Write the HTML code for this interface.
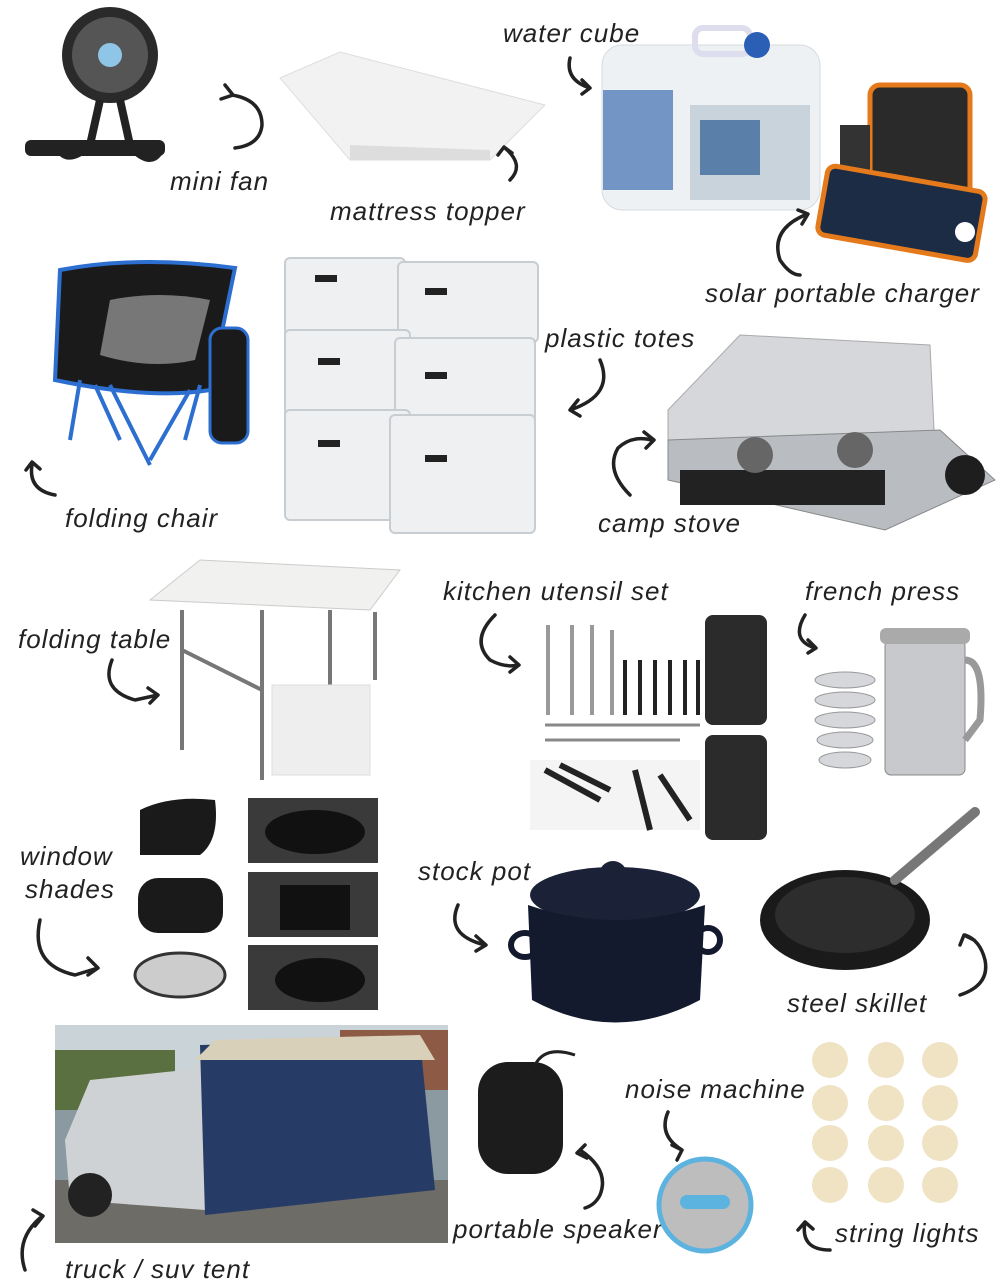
<!DOCTYPE html>
<html><head><meta charset="utf-8"><style>
html,body{margin:0;padding:0;background:#fff;}
svg{display:block}
text{font-family:"Liberation Sans",sans-serif;font-style:italic;font-size:26px;fill:#222;letter-spacing:1px}
.a{fill:none;stroke:#222;stroke-width:3.5;stroke-linecap:round;stroke-linejoin:round}
</style></head><body>
<svg width="1000" height="1284" viewBox="0 0 1000 1284" xmlns="http://www.w3.org/2000/svg">
<!-- mini fan -->
<rect x="25" y="140" width="140" height="16" rx="6" fill="#222"/>
<circle cx="110" cy="55" r="48" fill="#2a2a2a"/>
<circle cx="110" cy="55" r="38" fill="#555"/>
<circle cx="110" cy="55" r="12" fill="#8fc6e8"/>
<path d="M100 100 L90 145 M120 100 L130 145 M95 140 Q70 165 60 150 M125 140 Q150 170 160 150" stroke="#222" stroke-width="8" fill="none"/>
<text x="170" y="190">mini fan</text>
<path class="a" d="M232 95 Q262 100 262 125 Q260 145 235 148 M225 85 l8 10 -12 4"/>
<!-- mattress -->
<polygon points="280,78 340,52 545,105 490,160 350,160" fill="#f2f2f2" stroke="#ddd"/>
<polygon points="350,145 490,150 490,160 350,160" fill="#ddd"/>
<text x="330" y="220">mattress topper</text>
<path class="a" d="M510 180 Q525 165 505 148 M498 155 l6 -8 8 6"/>
<!-- water cube -->
<rect x="602" y="45" width="218" height="165" rx="20" fill="#eef1f3" stroke="#d6dbdf"/>
<rect x="695" y="28" width="55" height="26" rx="8" fill="none" stroke="#dde" stroke-width="6"/>
<circle cx="757" cy="45" r="13" fill="#2a5fb5"/>
<rect x="603" y="90" width="70" height="100" fill="#3d6eb0" opacity="0.7"/>
<rect x="690" y="105" width="120" height="95" fill="#c9d3dc"/>
<rect x="700" y="120" width="60" height="55" fill="#5a7fa8"/>
<text x="503" y="42">water cube</text>
<path class="a" d="M570 58 Q565 80 590 88 M582 80 l8 8 -8 6"/>
<!-- solar charger -->
<rect x="870" y="85" width="100" height="120" rx="10" fill="#2a2a2a" stroke="#e57a1c" stroke-width="5"/>
<rect x="840" y="125" width="30" height="80" fill="#333"/>
<rect x="822" y="178" width="160" height="70" rx="8" fill="#1c2c44" stroke="#e57a1c" stroke-width="5" transform="rotate(10 900 210)"/>
<circle cx="965" cy="232" r="10" fill="#fff"/>
<path class="a" d="M805 215 Q770 230 780 260 Q790 275 800 275 M798 210 l10 4 -6 10"/>
<text x="705" y="302">solar portable charger</text>
<!-- folding chair -->
<path d="M60 270 Q140 255 235 268 L210 390 Q150 400 55 380 Z" fill="#1a1a1a" stroke="#2c6fd0" stroke-width="4"/>
<path d="M110 300 Q160 290 210 300 L195 360 Q150 370 100 355Z" fill="#777"/>
<path d="M80 380 L70 440 M110 385 L150 465 M190 390 L150 460 M200 385 L185 440 M95 385 L120 440" stroke="#2c6fd0" stroke-width="4"/>
<rect x="210" y="328" width="38" height="115" rx="12" fill="#1a1a1a" stroke="#2c6fd0" stroke-width="3"/>
<path class="a" d="M55 495 Q28 490 32 465 M26 470 l6 -8 8 7"/>
<text x="65" y="527">folding chair</text>
<!-- totes -->
<g fill="#eef0f2" stroke="#c8cdd2" stroke-width="2">
<rect x="285" y="258" width="120" height="80" rx="5"/><rect x="398" y="262" width="140" height="80" rx="5"/>
<rect x="285" y="330" width="125" height="90" rx="5"/><rect x="395" y="338" width="140" height="85" rx="5"/>
<rect x="285" y="410" width="125" height="110" rx="5"/><rect x="390" y="415" width="145" height="118" rx="5"/>
</g>
<g fill="#222"><rect x="315" y="275" width="22" height="7"/><rect x="425" y="288" width="22" height="7"/>
<rect x="318" y="358" width="22" height="7"/><rect x="425" y="372" width="22" height="7"/>
<rect x="318" y="440" width="22" height="7"/><rect x="425" y="455" width="22" height="7"/></g>
<text x="545" y="347">plastic totes</text>
<path class="a" d="M600 360 Q615 395 570 410 M578 400 l-8 10 10 6"/>
<!-- camp stove -->
<polygon points="740,335 930,345 935,450 668,450 668,410" fill="#d5d7da" stroke="#aaa"/>
<polygon points="668,440 940,430 995,480 885,530 668,480" fill="#b9bcc0" stroke="#888"/>
<rect x="680" y="470" width="205" height="35" fill="#222"/>
<circle cx="755" cy="455" r="18" fill="#666"/><circle cx="855" cy="450" r="18" fill="#666"/>
<circle cx="965" cy="475" r="20" fill="#1e1e1e"/>
<path class="a" d="M630 495 Q605 470 618 448 Q632 435 652 440 M644 432 l10 8 -8 8"/>
<rect x="596" y="508" width="150" height="32" fill="#fff"/>
<text x="598" y="532">camp stove</text>
<!-- folding table -->
<polygon points="150,600 200,560 400,570 370,610" fill="#f1f1ef" stroke="#ccc"/>
<path d="M182 610 L182 750 M262 610 L262 780 M330 610 L330 700 M375 612 L375 680 M182 650 L262 690" stroke="#777" stroke-width="4" fill="none"/>
<rect x="272" y="685" width="98" height="90" fill="#eee" stroke="#ddd"/>
<text x="18" y="648">folding table</text>
<path class="a" d="M112 660 Q100 690 135 700 L158 695 M148 688 l10 7 -8 8"/>
<!-- kitchen utensils -->
<text x="443" y="600">kitchen utensil set</text>
<path class="a" d="M495 615 Q470 640 490 660 Q505 668 518 665 M510 657 l9 8 -9 7"/>
<g stroke="#999" stroke-width="4"><path d="M548 625 V715 M572 625 V715 M592 625 V715 M612 630 V715"/></g>
<g stroke="#222" stroke-width="4"><path d="M625 660 V715 M640 660 V715 M655 660 V715 M670 660 V715 M685 660 V715 M698 660 V715"/></g>
<rect x="705" y="615" width="62" height="110" rx="8" fill="#2b2b2b"/>
<path d="M545 725 H700 M545 740 H680" stroke="#888" stroke-width="3"/>
<rect x="705" y="735" width="62" height="105" rx="8" fill="#2b2b2b"/>
<rect x="530" y="760" width="170" height="70" fill="#f4f4f4"/>
<path d="M545 770 L600 800 M560 765 L610 790 M635 770 L650 830 M660 775 L690 820" stroke="#222" stroke-width="6"/>
<!-- french press -->
<text x="805" y="600">french press</text>
<path class="a" d="M805 615 Q790 640 815 648 M808 640 l8 8 -8 5"/>
<rect x="885" y="640" width="80" height="135" rx="6" fill="#c7c9cc" stroke="#888"/>
<path d="M965 660 Q985 660 980 720 L965 740" fill="none" stroke="#999" stroke-width="7"/>
<rect x="880" y="628" width="90" height="16" rx="6" fill="#aaa"/>
<g fill="#d5d7da" stroke="#999"><ellipse cx="845" cy="680" rx="30" ry="8"/><ellipse cx="845" cy="700" rx="30" ry="8"/><ellipse cx="845" cy="720" rx="30" ry="8"/><ellipse cx="845" cy="740" rx="28" ry="8"/><ellipse cx="845" cy="760" rx="26" ry="8"/></g>
<!-- window shades -->
<g fill="#1a1a1a"><path d="M140 810 Q170 795 215 800 Q220 840 200 855 L140 855Z"/><rect x="138" y="878" width="85" height="55" rx="20"/></g>
<ellipse cx="180" cy="975" rx="45" ry="22" fill="#ccc" stroke="#333" stroke-width="3"/>
<g fill="#3a3a3a"><rect x="248" y="798" width="130" height="65"/><rect x="248" y="872" width="130" height="65"/><rect x="248" y="945" width="130" height="65"/></g>
<g fill="#111"><ellipse cx="315" cy="832" rx="50" ry="22"/><rect x="280" y="885" width="70" height="45"/><ellipse cx="320" cy="980" rx="45" ry="22"/></g>
<text x="20" y="865">window</text><text x="25" y="898">shades</text>
<path class="a" d="M40 920 Q30 965 75 975 L98 968 M88 958 l10 10 -10 7"/>
<!-- stock pot -->
<text x="418" y="880">stock pot</text>
<path class="a" d="M458 905 Q445 935 485 945 M476 936 l10 9 -10 6"/>
<ellipse cx="615" cy="895" rx="85" ry="28" fill="#1b2238"/>
<circle cx="613" cy="875" r="14" fill="#1b2238"/>
<path d="M528 905 L532 1000 Q615 1045 700 1000 L705 905 Q615 935 528 905Z" fill="#141a2e"/>
<ellipse cx="525" cy="945" rx="14" ry="12" fill="none" stroke="#141a2e" stroke-width="6"/>
<ellipse cx="708" cy="940" rx="12" ry="12" fill="none" stroke="#141a2e" stroke-width="6"/>
<!-- skillet -->
<ellipse cx="845" cy="920" rx="85" ry="50" fill="#1a1a1a"/>
<ellipse cx="845" cy="915" rx="70" ry="38" fill="#2d2d2d"/>
<path d="M895 880 L975 812" stroke="#777" stroke-width="10" stroke-linecap="round"/>
<path class="a" d="M960 995 Q990 985 985 960 Q980 940 965 935 M960 945 l4 -10 10 5"/>
<text x="787" y="1012">steel skillet</text>
<!-- truck tent photo -->
<rect x="55" y="1025" width="393" height="218" fill="#8a9aa0"/>
<rect x="55" y="1025" width="393" height="60" fill="#c9d3d8"/>
<rect x="55" y="1050" width="120" height="60" fill="#5b7040"/>
<rect x="340" y="1030" width="108" height="60" fill="#8c5a45"/>
<rect x="55" y="1180" width="393" height="63" fill="#6d6c66"/>
<path d="M65 1140 L90 1080 L185 1070 L205 1060 L205 1210 L70 1200Z" fill="#cfd2d4"/>
<path d="M200 1045 L420 1040 L435 1190 L205 1215Z" fill="#263b66"/>
<path d="M195 1060 L215 1040 L420 1035 L435 1060Z" fill="#d8d0b8"/>
<circle cx="90" cy="1195" r="22" fill="#222"/>
<path class="a" d="M40 1218 Q15 1240 25 1270 M33 1210 l10 6 -8 10"/>
<text x="65" y="1278">truck / suv tent</text>
<!-- speaker -->
<rect x="478" y="1062" width="85" height="112" rx="30" fill="#1c1c1c"/>
<path d="M535 1065 Q545 1045 575 1055" stroke="#222" stroke-width="3" fill="none"/>
<path class="a" d="M580 1150 Q610 1170 600 1195 Q595 1205 585 1208 M585 1145 l-8 8 10 5"/>
<text x="453" y="1238">portable speaker</text>
<!-- noise machine -->
<text x="625" y="1098">noise machine</text>
<path class="a" d="M668 1112 Q658 1135 682 1150 M672 1145 l10 5 -5 10"/>
<circle cx="705" cy="1205" r="46" fill="#bdbdbd"/>
<circle cx="705" cy="1205" r="46" fill="none" stroke="#5cb3e0" stroke-width="5"/>
<rect x="680" y="1195" width="50" height="14" rx="7" fill="#5cb3e0"/>
<!-- string lights -->
<g fill="#efe3c4">
<circle cx="830" cy="1060" r="18"/><circle cx="886" cy="1060" r="18"/><circle cx="940" cy="1060" r="18"/>
<circle cx="830" cy="1103" r="18"/><circle cx="886" cy="1103" r="18"/><circle cx="940" cy="1103" r="18"/>
<circle cx="830" cy="1143" r="18"/><circle cx="886" cy="1143" r="18"/><circle cx="940" cy="1143" r="18"/>
<circle cx="830" cy="1185" r="18"/><circle cx="886" cy="1185" r="18"/><circle cx="940" cy="1185" r="18"/>
</g>
<path class="a" d="M830 1250 Q800 1250 805 1222 M798 1230 l7 -8 8 7"/>
<text x="835" y="1242">string lights</text>
</svg>
</body></html>
